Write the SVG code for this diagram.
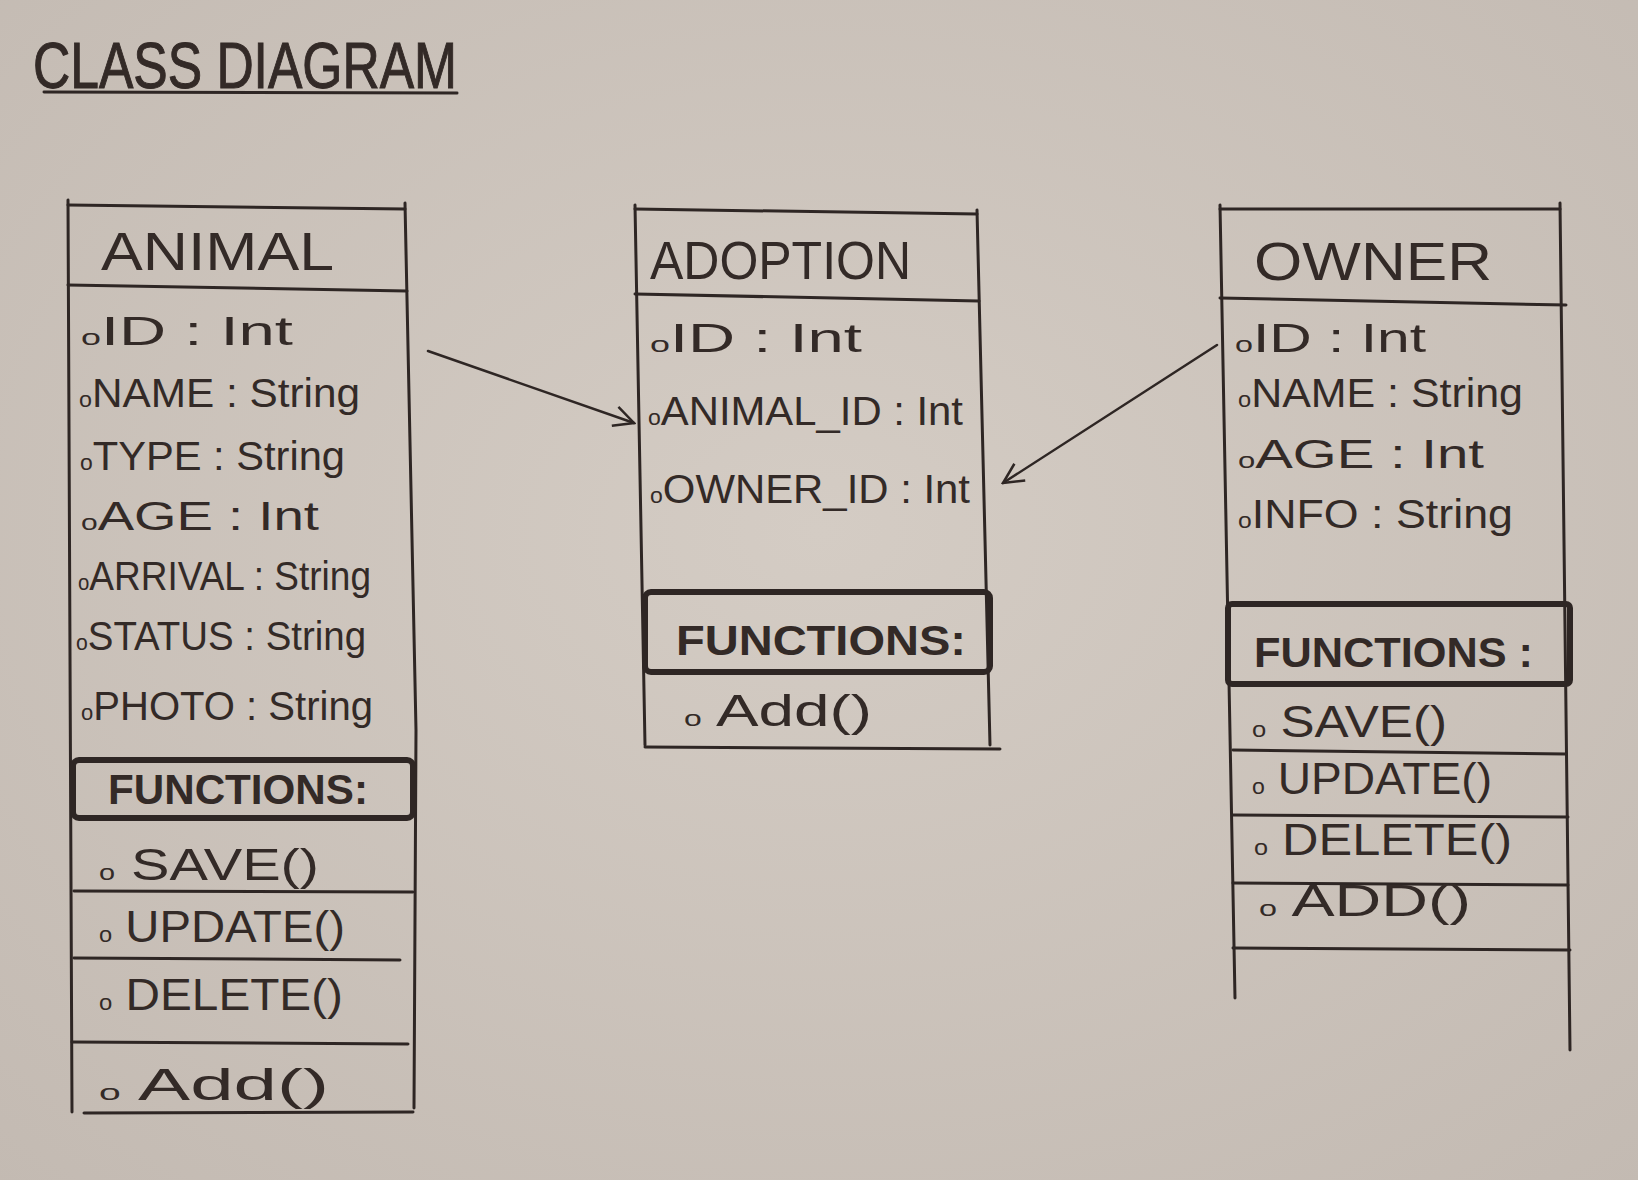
<svg xmlns="http://www.w3.org/2000/svg" width="1638" height="1180" viewBox="0 0 1638 1180">
<style>
.ink{fill:none;stroke:#2e2624;stroke-width:3;stroke-linecap:round;stroke-linejoin:round}
.thick{fill:none;stroke:#2e2624;stroke-width:6;stroke-linejoin:round}
.t{font-family:"Liberation Sans",Arial,sans-serif;fill:#332a27}
.title{font-size:64px;stroke:#332a27;stroke-width:1}
.head{font-size:54px}
.attr{font-size:40px}
.fn{font-size:44px}
.fh{font-size:42px;font-weight:bold}
.b{font-size:22px}
.conn{fill:none;stroke:#2e2624;stroke-width:2.5;stroke-linecap:round}
</style>
<defs>
<radialGradient id="paper" cx="50%" cy="45%" r="75%">
<stop offset="0" stop-color="#d4ccc4"/>
<stop offset="1" stop-color="#c3bab2"/>
</radialGradient>
<marker id="openL" viewBox="0 0 24 24" refX="22" refY="12" markerWidth="24" markerHeight="24" markerUnits="userSpaceOnUse" orient="auto">
<path d="M2,2 L22,12 L2,22" fill="none" stroke="#2e2624" stroke-width="2.5"/>
</marker>
</defs>
<rect width="1638" height="1180" fill="url(#paper)"/>

<g id="title">
<text class="t title" x="33" y="88" textLength="424" lengthAdjust="spacingAndGlyphs">CLASS DIAGRAM</text>
<path class="ink" d="M44,92 L457,93"/>
</g>

<g id="animal">
<path class="ink" d="M68,205 L405,209"/>
<path class="ink" d="M68,200 L72,1112"/>
<path class="ink" d="M405,203 L416,730 L414,1108"/>
<path class="ink" d="M68,285 L407,291"/>
<text class="t head" x="101" y="270" textLength="233" lengthAdjust="spacingAndGlyphs">ANIMAL</text>
<text class="t attr" x="81" y="345" textLength="212" lengthAdjust="spacingAndGlyphs"><tspan class="b">o</tspan>ID : Int</text>
<text class="t attr" x="79" y="407" textLength="281" lengthAdjust="spacingAndGlyphs"><tspan class="b">o</tspan>NAME : String</text>
<text class="t attr" x="80" y="470" textLength="265" lengthAdjust="spacingAndGlyphs"><tspan class="b">o</tspan>TYPE : String</text>
<text class="t attr" x="81" y="530" textLength="238" lengthAdjust="spacingAndGlyphs"><tspan class="b">o</tspan>AGE : Int</text>
<text class="t attr" x="78" y="590" textLength="293" lengthAdjust="spacingAndGlyphs"><tspan class="b">o</tspan>ARRIVAL : String</text>
<text class="t attr" x="76" y="650" textLength="290" lengthAdjust="spacingAndGlyphs"><tspan class="b">o</tspan>STATUS : String</text>
<text class="t attr" x="81" y="720" textLength="292" lengthAdjust="spacingAndGlyphs"><tspan class="b">o</tspan>PHOTO : String</text>
<rect class="thick" x="73" y="760" width="340" height="58" rx="6"/>
<text class="t fh" x="108" y="804" textLength="260" lengthAdjust="spacingAndGlyphs">FUNCTIONS:</text>
<path class="ink" d="M74,891 L413,892"/>
<path class="ink" d="M74,958 L400,960"/>
<path class="ink" d="M72,1042 L408,1044"/>
<path class="ink" d="M84,1113 L413,1112"/>
<text class="t fn" x="99" y="880" textLength="220" lengthAdjust="spacingAndGlyphs"><tspan class="b">o</tspan> SAVE()</text>
<text class="t fn" x="99" y="942" textLength="246" lengthAdjust="spacingAndGlyphs"><tspan class="b">o</tspan> UPDATE()</text>
<text class="t fn" x="99" y="1010" textLength="244" lengthAdjust="spacingAndGlyphs"><tspan class="b">o</tspan> DELETE()</text>
<text class="t fn" x="99" y="1100" textLength="230" lengthAdjust="spacingAndGlyphs"><tspan class="b">o</tspan>  Add()</text>
</g>

<g id="adoption">
<path class="ink" d="M635,209 L977,214"/>
<path class="ink" d="M635,205 L645,745"/>
<path class="ink" d="M977,210 L990,745"/>
<path class="ink" d="M635,294 L979,301"/>
<text class="t head" x="650" y="279" textLength="261" lengthAdjust="spacingAndGlyphs">ADOPTION</text>
<text class="t attr" x="650" y="352" textLength="212" lengthAdjust="spacingAndGlyphs"><tspan class="b">o</tspan>ID : Int</text>
<text class="t attr" x="648" y="425" textLength="315" lengthAdjust="spacingAndGlyphs"><tspan class="b">o</tspan>ANIMAL_ID : Int</text>
<text class="t attr" x="650" y="503" textLength="320" lengthAdjust="spacingAndGlyphs"><tspan class="b">o</tspan>OWNER_ID : Int</text>
<rect class="thick" x="645" y="592" width="345" height="80" rx="6"/>
<text class="t fh" x="676" y="655" textLength="290" lengthAdjust="spacingAndGlyphs">FUNCTIONS:</text>
<text class="t fn" x="684" y="726" textLength="188" lengthAdjust="spacingAndGlyphs"><tspan class="b">o</tspan> Add()</text>
<path class="ink" d="M645,747 L1000,749"/>
</g>

<g id="owner">
<path class="ink" d="M1220,209 L1560,209"/>
<path class="ink" d="M1220,205 L1235,998"/>
<path class="ink" d="M1560,203 L1570,1050"/>
<path class="ink" d="M1220,298 L1566,305"/>
<text class="t head" x="1254" y="280" textLength="238" lengthAdjust="spacingAndGlyphs" font-size="58">OWNER</text>
<text class="t attr" x="1235" y="352" textLength="191" lengthAdjust="spacingAndGlyphs"><tspan class="b">o</tspan>ID : Int</text>
<text class="t attr" x="1238" y="407" textLength="285" lengthAdjust="spacingAndGlyphs"><tspan class="b">o</tspan>NAME : String</text>
<text class="t attr" x="1238" y="468" textLength="246" lengthAdjust="spacingAndGlyphs"><tspan class="b">o</tspan>AGE : Int</text>
<text class="t attr" x="1238" y="528" textLength="275" lengthAdjust="spacingAndGlyphs"><tspan class="b">o</tspan>INFO : String</text>
<rect class="thick" x="1228" y="604" width="342" height="80" rx="4" stroke-width="5"/>
<text class="t fh" x="1254" y="667" textLength="279" lengthAdjust="spacingAndGlyphs">FUNCTIONS :</text>
<text class="t fn" x="1252" y="737" textLength="195" lengthAdjust="spacingAndGlyphs"><tspan class="b">o</tspan> SAVE()</text>
<path class="ink" d="M1233,750 L1566,754"/>
<text class="t fn" x="1252" y="794" textLength="240" lengthAdjust="spacingAndGlyphs"><tspan class="b">o</tspan>  UPDATE()</text>
<path class="ink" d="M1233,815 L1568,817"/>
<text class="t fn" x="1254" y="855" textLength="258" lengthAdjust="spacingAndGlyphs"><tspan class="b">o</tspan>   DELETE()</text>
<path class="ink" d="M1233,883 L1568,885"/>
<text class="t fn" x="1259" y="916" textLength="212" lengthAdjust="spacingAndGlyphs"><tspan class="b">o</tspan>   ADD()</text>
<path class="ink" d="M1233,948 L1570,950"/>
</g>

<g id="connectors">
<path class="conn" d="M428,351 L634,423" marker-end="url(#openL)"/>
<path class="conn" d="M1217,345 L1003,483" marker-end="url(#openL)"/>
</g>
</svg>
